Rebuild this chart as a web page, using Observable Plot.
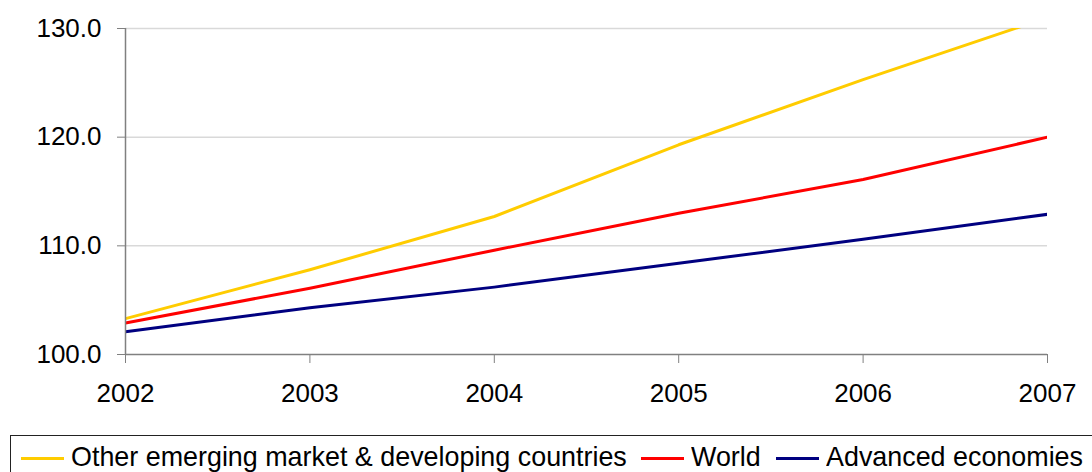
<!DOCTYPE html>
<html>
<head>
<meta charset="utf-8">
<script src="https://cdn.jsdelivr.net/npm/d3@7"></script>
<script src="https://cdn.jsdelivr.net/npm/@observablehq/plot@0.6"></script>
<style>
  html, body { margin: 0; padding: 0; background: #fff; overflow: hidden; }
  body { width: 1092px; height: 472px; font-family: "Liberation Sans", Arial, sans-serif; }
  #chart svg { display: block; }
  #legend {
    position: absolute; left: 10px; top: 435px; width: 1100px; height: 60px;
    border: 1.5px solid #222; box-sizing: border-box;
    font-family: "Liberation Sans", Arial, sans-serif;
    font-size: 28px; color: #000; white-space: nowrap;
  }
  .item { position: absolute; top: 22px; height: 0; }
  .sw { position: absolute; left: 0; top: -1.5px; width: 43px; height: 3px; }
  .txt { position: absolute; left: 50px; top: -17px; line-height: 32px; transform-origin: 0 50%; transform: scaleX(0.96); }
</style>
</head>
<body>
<div id="chart"></div>
<div id="legend"></div>
<script>
const years = [2002, 2003, 2004, 2005, 2006, 2007];
const seriesNames = ["Other emerging market & developing countries", "World", "Advanced economies"];
const seriesColors = ["#FFCC00", "#FF0000", "#000080"];
const emerging = [103.3, 107.8, 112.7, 119.3, 125.3, 131.0];
const world = [102.9, 106.1, 109.6, 113.0, 116.1, 120.0];
const advanced = [102.1, 104.3, 106.2, 108.4, 110.6, 112.9];
const yTicks = [100, 110, 120, 130];
const legendX = [10, 630, 765];

const values = [emerging, world, advanced];
const data = [];
values.forEach((vals, i) => vals.forEach((v, j) => data.push({series: seriesNames[i], year: years[j], value: v})));

const yMin = yTicks[0], yMax = yTicks[yTicks.length - 1];

const chart = Plot.plot({
  width: 1092,
  height: 425,
  marginLeft: 125,
  marginRight: 45,
  marginTop: 28,
  marginBottom: 71,
  style: {fontFamily: "'Liberation Sans', Arial, sans-serif", fontSize: "26px", color: "#000", background: "#fff"},
  x: {domain: [years[0], years[years.length - 1]]},
  y: {domain: [yMin, yMax]},
  color: {domain: seriesNames, range: seriesColors},
  marks: [
    Plot.gridY(yTicks.slice(1), {stroke: "#d9d9d9", strokeOpacity: 1, strokeWidth: 1.5}),
    Plot.line(data, {x: "year", y: "value", z: "series", stroke: "series", strokeWidth: 3, clip: true}),
    Plot.ruleX([years[0]], {y1: yMin, y2: yMax, stroke: "#808080", strokeWidth: 1.5}),
    Plot.ruleY([yMin], {stroke: "#808080", strokeWidth: 1.5}),
    Plot.axisY(yTicks, {tickFormat: d => d.toFixed(1), tickSize: 8, tickPadding: 16, stroke: "#808080", label: null, fill: "#000", fontSize: 26}),
    Plot.axisX(years, {tickFormat: d => String(d), tickSize: 9, tickPadding: 20, stroke: "#808080", label: null, fill: "#000", fontSize: 26})
  ]
});
document.getElementById("chart").appendChild(chart);

const legend = document.getElementById("legend");
seriesNames.forEach((name, i) => {
  const it = document.createElement("div");
  it.className = "item";
  it.style.left = legendX[i] + "px";
  const sw = document.createElement("span");
  sw.className = "sw";
  sw.style.background = seriesColors[i];
  const t = document.createElement("span");
  t.className = "txt";
  t.textContent = name;
  it.appendChild(sw); it.appendChild(t);
  legend.appendChild(it);
});
</script>
</body>
</html>
